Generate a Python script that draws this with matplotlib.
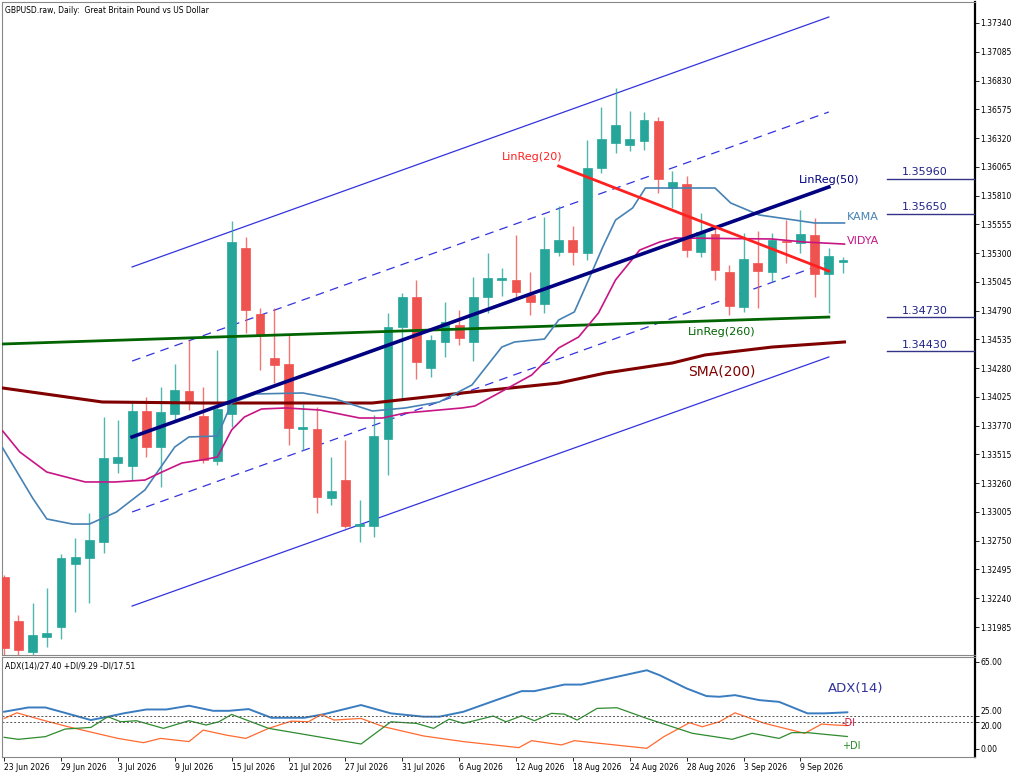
import numpy as np
import matplotlib
matplotlib.use('Agg')
import matplotlib.pyplot as plt

plt.rcParams['font.family'] = ['DejaVu Sans']

# 日线 OHLC
opens = [1.32428, 1.32038, 1.31763, 1.31896, 1.31985, 1.32544, 1.32597, 1.32739, 1.33439, 1.33412,
         1.33900, 1.33581, 1.33873, 1.34077, 1.33856, 1.33457, 1.33873, 1.35345, 1.34760, 1.34370,
         1.34317, 1.33740, 1.33740, 1.33129, 1.33288, 1.32880, 1.32880, 1.33652, 1.34645, 1.34911,
         1.34281, 1.34512, 1.34663, 1.34512, 1.34911, 1.35062, 1.35062, 1.34928, 1.34849, 1.35310,
         1.35416, 1.35301, 1.36055, 1.36276, 1.36258, 1.36294, 1.36471, 1.35877, 1.35913, 1.35310,
         1.35469, 1.35132, 1.34822, 1.35212, 1.35132, 1.35407, 1.35390, 1.35460, 1.35115, 1.35221]
highs = [1.32446, 1.32091, 1.32198, 1.32331, 1.32632, 1.32774, 1.32996, 1.33847, 1.33820, 1.33980,
         1.34024, 1.34113, 1.34317, 1.34530, 1.34113, 1.34441, 1.35585, 1.35443, 1.34813, 1.34813,
         1.34574, 1.33962, 1.33935, 1.33492, 1.33643, 1.33111, 1.33865, 1.34769, 1.34946, 1.35062,
         1.34574, 1.34866, 1.34796, 1.35088, 1.35301, 1.35168, 1.35460, 1.35132, 1.35620, 1.35718,
         1.35540, 1.36303, 1.36595, 1.36764, 1.36560, 1.36551, 1.36507, 1.36028, 1.35984, 1.35655,
         1.35522, 1.35194, 1.35478, 1.35496, 1.35478, 1.35593, 1.35682, 1.35611, 1.35345, 1.35265]
lows = [1.31720, 1.31692, 1.31728, 1.31808, 1.31879, 1.32118, 1.32198, 1.32641, 1.33350, 1.33288,
        1.33492, 1.33226, 1.33820, 1.33909, 1.33439, 1.33421, 1.33758, 1.34592, 1.34264, 1.34148,
        1.33599, 1.33554, 1.32996, 1.33067, 1.32862, 1.32739, 1.32783, 1.33333, 1.34006, 1.34184,
        1.34202, 1.34379, 1.34485, 1.34343, 1.34769, 1.34920, 1.34902, 1.34751, 1.34769, 1.35274,
        1.35194, 1.35239, 1.36010, 1.36187, 1.36205, 1.36214, 1.35833, 1.35700, 1.35265, 1.35265,
        1.35062, 1.34751, 1.34778, 1.34813, 1.35044, 1.35212, 1.35301, 1.34911, 1.34769, 1.35124]
closes = [1.31799, 1.31781, 1.31914, 1.31932, 1.32597, 1.32606, 1.32756, 1.33483, 1.33492, 1.33900,
          1.33581, 1.33891, 1.34086, 1.33980, 1.33466, 1.33918, 1.35398, 1.34796, 1.34574, 1.34308,
          1.33749, 1.33758, 1.33138, 1.33191, 1.32880, 1.32898, 1.33678, 1.34645, 1.34911, 1.34334,
          1.34530, 1.34689, 1.34547, 1.34911, 1.35079, 1.35079, 1.34955, 1.34866, 1.35336, 1.35416,
          1.35310, 1.36055, 1.36312, 1.36436, 1.36312, 1.36480, 1.35957, 1.35930, 1.35327, 1.35487,
          1.35150, 1.34831, 1.35248, 1.35141, 1.35416, 1.35398, 1.35469, 1.35115, 1.35274, 1.35239]

date_labels = ['23 Jun 2026', '29 Jun 2026', '3 Jul 2026', '9 Jul 2026', '15 Jul 2026', '21 Jul 2026',
               '27 Jul 2026', '31 Jul 2026', '6 Aug 2026', '12 Aug 2026', '18 Aug 2026', '24 Aug 2026',
               '28 Aug 2026', '3 Sep 2026', '9 Sep 2026']
price_ticks = [1.31985, 1.32240, 1.32495, 1.32750, 1.33005, 1.33260, 1.33515, 1.33770, 1.34025,
               1.34280, 1.34535, 1.34790, 1.35045, 1.35300, 1.35555, 1.35810, 1.36065, 1.36320,
               1.36575, 1.36830, 1.37085, 1.37340]

# 指标曲线节点（柱索引, 价格）
kama_x = [-0.1, 2.0, 3.0, 4.8, 6.0, 7.9, 9.9, 12.0, 13.0, 15.0, 16.0, 17.7, 21.0, 23.3, 25.9, 28.2,
          30.6, 32.9, 35.0, 35.9, 38.0, 39.0, 40.1, 41.1, 42.1, 43.0, 44.2, 45.1, 50.0, 51.1, 53.1, 57.0, 59.1]
kama_y = [1.33572, 1.33129, 1.32943, 1.32898, 1.32898, 1.33005, 1.33200, 1.33581, 1.33670, 1.33678,
          1.33971, 1.34051, 1.34060, 1.34006, 1.33900, 1.33927, 1.33980, 1.34131, 1.34467, 1.34512,
          1.34538, 1.34707, 1.34778, 1.35062, 1.35354, 1.35593, 1.35700, 1.35877, 1.35877, 1.35744,
          1.35638, 1.35567, 1.35567]
vidya_x = [-0.1, 1.1, 3.0, 5.7, 7.8, 9.9, 11.1, 12.5, 13.9, 15.0, 16.0, 16.9, 18.1, 19.8, 22.2, 25.0,
           26.6, 28.2, 32.2, 33.1, 34.8, 37.1, 39.0, 40.4, 41.8, 43.0, 44.7, 46.1, 47.2, 54.0, 56.3, 59.1]
vidya_y = [1.33723, 1.33537, 1.33359, 1.33271, 1.33271, 1.33288, 1.33359, 1.33439, 1.33466, 1.33492,
           1.33732, 1.33847, 1.33918, 1.33927, 1.33909, 1.33838, 1.33838, 1.33882, 1.33927, 1.33944,
           1.34060, 1.34219, 1.34459, 1.34556, 1.34769, 1.35062, 1.35327, 1.35398, 1.35434, 1.35425,
           1.35398, 1.35380]
sma_x = [-0.1, 6.9, 13.9, 25.9, 32.9, 39.0, 42.3, 47.0, 49.3, 54.0, 59.1]
sma_y = [1.34104, 1.33980, 1.33971, 1.33971, 1.34069, 1.34148, 1.34237, 1.34326, 1.34397, 1.34467, 1.34512]

# 回归线端点
lr260_x, lr260_y = [-0.14, 58.0], [1.34494, 1.34733]
lr50_x, lr50_y = [9.0, 58.0], [1.33670, 1.35886]
lr20_x, lr20_y = [39.0, 58.0], [1.36072, 1.35141]
chan_x = [9.0, 58.0]
chan_upper = [1.35177, 1.37393]
chan_upper_mid = [1.34343, 1.36551]
chan_lower_mid = [1.33005, 1.35221]
chan_lower = [1.32171, 1.34379]
levels = [1.35960, 1.35650, 1.34730, 1.34430]

# ADX(14) 面板
adx_x = [0, 1.7, 2.9, 4.0, 6.1, 7.3, 8.4, 10.0, 11.4, 13.0, 14.7, 15.8, 17.2, 18.8, 21.1, 22.5, 25.1,
         27.2, 29.5, 30.6, 32.3, 34.6, 36.4, 37.3, 39.4, 40.6, 45.2, 46.1, 48.0, 49.4, 50.3, 51.4,
         53.1, 54.5, 56.5, 57.7, 59.3]
adx_y = [27.8, 31, 31, 27.8, 21.6, 24.1, 26.6, 29.5, 29.5, 32.3, 28.5, 28.5, 29.8, 23.3, 23.3, 26,
         32.8, 26.6, 24.1, 24.1, 27.8, 36.5, 43.2, 43.2, 48.1, 48.1, 58.8, 55.1, 45.2, 39.5, 39, 40.2,
         36.5, 35.2, 26.6, 26.6, 27.4]
mdi_x = [0, 0.9, 2.7, 4.5, 8.0, 9.8, 11.0, 13.0, 14.0, 15.6, 17.0, 18.6, 20.2, 21.4, 22.3, 23.2,
         25.1, 26.7, 29.5, 32.3, 36.2, 37.1, 39.2, 40.1, 45.2, 46.4, 48.2, 49.1, 50.3, 51.4, 53.5,
         56.3, 57.5, 58.4, 59.3]
mdi_y = [22.8, 27, 21.6, 16.6, 7.9, 4.7, 7.9, 5.5, 14.1, 10.4, 7.9, 15.4, 20.8, 20.3, 25.8, 21.6,
         22.8, 16.6, 9.7, 5.5, 1.0, 6.2, 3.0, 6.2, 0.5, 9.2, 19.6, 16.6, 20.3, 27, 19.1, 11.7, 18.6,
         17.9, 17.5]
pdi_x = [0, 1.0, 2.9, 4.3, 6.1, 7.3, 8.2, 9.3, 11.2, 13.0, 14.2, 15.1, 16.0, 18.6, 25.1, 27.2, 29.0,
         30.2, 31.3, 32.3, 34.4, 35.3, 36.4, 37.3, 38.5, 39.4, 40.3, 41.7, 43.1, 45.2, 48.4, 51.2,
         52.6, 54.5, 55.4, 56.5, 59.3]
pdi_y = [8.7, 7.2, 9.2, 14.9, 16.1, 24.1, 20.3, 21.1, 15.4, 21.1, 17.9, 20.3, 25.8, 15.4, 3.7, 20.3,
         19.1, 15.4, 22.3, 19.1, 24.6, 20.3, 24.8, 21.1, 26.6, 26, 21.6, 30.3, 30.8, 22.8, 11.7, 7.2,
         11.7, 7.9, 12.2, 12.2, 9.3]

W, H = 1024, 772
fig = plt.figure(figsize=(W / 100, H / 100), dpi=100)
ax = fig.add_axes([2 / W, 1 - 655 / H, 973 / W, 653 / H])
ax2 = fig.add_axes([2 / W, 1 - 757 / H, 973 / W, 100 / H])

xmin, xmax = -0.15, 68.28
bull, bear = '#26a69a', '#ef5350'

# 蜡烛图
for i in range(len(opens)):
    o, h, l, c = opens[i], highs[i], lows[i], closes[i]
    col = bull if c >= o else bear
    ax.vlines(i, l, h, color=col, lw=1, alpha=0.8, zorder=3)
    lo, hi = min(o, c), max(o, c)
    ax.bar(i, max(hi - lo, 0.00003), bottom=lo, width=0.62, color=col, edgecolor=col, lw=0.5, zorder=4)

# 通道与回归线
ch = dict(color='#3333dd', lw=0.9, zorder=2)
ax.plot(chan_x, chan_upper, **ch)
ax.plot(chan_x, chan_lower, **ch)
ax.plot(chan_x, chan_upper_mid, ls=(0, (7, 5)), **ch)
ax.plot(chan_x, chan_lower_mid, ls=(0, (7, 5)), **ch)
ax.plot(sma_x, sma_y, color='#800000', lw=2.2, zorder=5)
ax.plot(lr260_x, lr260_y, color='#006400', lw=2, zorder=5)
ax.plot(kama_x, kama_y, color='#4682b4', lw=1.2, zorder=5)
ax.plot(vidya_x, vidya_y, color='#c71585', lw=1.2, zorder=5)
ax.plot(lr50_x, lr50_y, color='#000080', lw=2.6, zorder=6)
ax.plot(lr20_x, lr20_y, color='#ff2020', lw=2, zorder=6)

ax.text(35.0, 1.36152, 'LinReg(20)', color='#ff2020', fontsize=8, va='center')
ax.text(55.9, 1.35948, 'LinReg(50)', color='#000080', fontsize=8, va='center')
ax.text(59.3, 1.35620, 'KAMA', color='#4682b4', fontsize=8, va='center')
ax.text(59.3, 1.35407, 'VIDYA', color='#c71585', fontsize=8, va='center')
ax.text(48.1, 1.34601, 'LinReg(260)', color='#006400', fontsize=8, va='center')
ax.text(48.1, 1.34246, 'SMA(200)', color='#800000', fontsize=10, va='center')

for lv in levels:
    ax.plot([62.1, xmax], [lv, lv], color='#333388', lw=1, zorder=5)
    ax.text(63.1, lv + 0.00012, f'{lv:.5f}', color='#222288', fontsize=8, va='bottom')

ax.text(0.003, 0.994, 'GBPUSD.raw, Daily:  Great Britain Pound vs US Dollar', transform=ax.transAxes,
        fontsize=5.5, va='top', ha='left')

ax.set_xlim(xmin, xmax)
ax.set_ylim(1.31737, 1.37526)
ax.yaxis.tick_right()
ax.set_yticks(price_ticks)
ax.set_yticklabels([f'{p:.5f}' for p in price_ticks], fontsize=5.5)
ax.tick_params(axis='y', length=3, pad=1, width=0.6)
ax.set_xticks([])

# ADX 面板
ax2.plot(adx_x, adx_y, color='#3a7cc0', lw=1.4)
ax2.plot(mdi_x, mdi_y, color='#ff6a30', lw=0.9)
ax2.plot(pdi_x, pdi_y, color='#2e8b2e', lw=0.9)
for lv in [25, 20]:
    ax2.axhline(lv, color='#555555', lw=0.7, ls=(0, (2, 2)))
ax2.text(0.003, 0.95, 'ADX(14)/27.40 +DI/9.29 -DI/17.51', transform=ax2.transAxes, fontsize=5.5, va='top')
ax2.text(57.9, 45, 'ADX(14)', color='#333399', fontsize=9.5, va='center')
ax2.text(58.9, 19.5, '-DI', color='#dc143c', fontsize=7, va='center')
ax2.text(58.9, 2.5, '+DI', color='#228b22', fontsize=7, va='center')
ax2.set_xlim(xmin, xmax)
ax2.set_ylim(-6, 68.7)
ax2.yaxis.tick_right()
ax2.set_yticks([0, 20, 25, 65])
ax2.set_yticklabels(['0.00', '20.00', '25.00', '65.00'], fontsize=5.5)
tl = ax2.get_yticklabels()
tl[1].set_va('top')
tl[2].set_va('bottom')
ax2.tick_params(axis='y', length=3, pad=1, width=0.6)
ax2.set_xticks(range(0, 60, 4))
ax2.set_xticklabels(date_labels, fontsize=5.5, ha='left')
ax2.tick_params(axis='x', length=3, pad=1, width=0.6)

for a in (ax, ax2):
    for s in ('top', 'left', 'bottom'):
        a.spines[s].set_color('#888888')
        a.spines[s].set_linewidth(0.8)
    a.spines['right'].set_linewidth(1.6)

fig.savefig('out.png', dpi=100)
